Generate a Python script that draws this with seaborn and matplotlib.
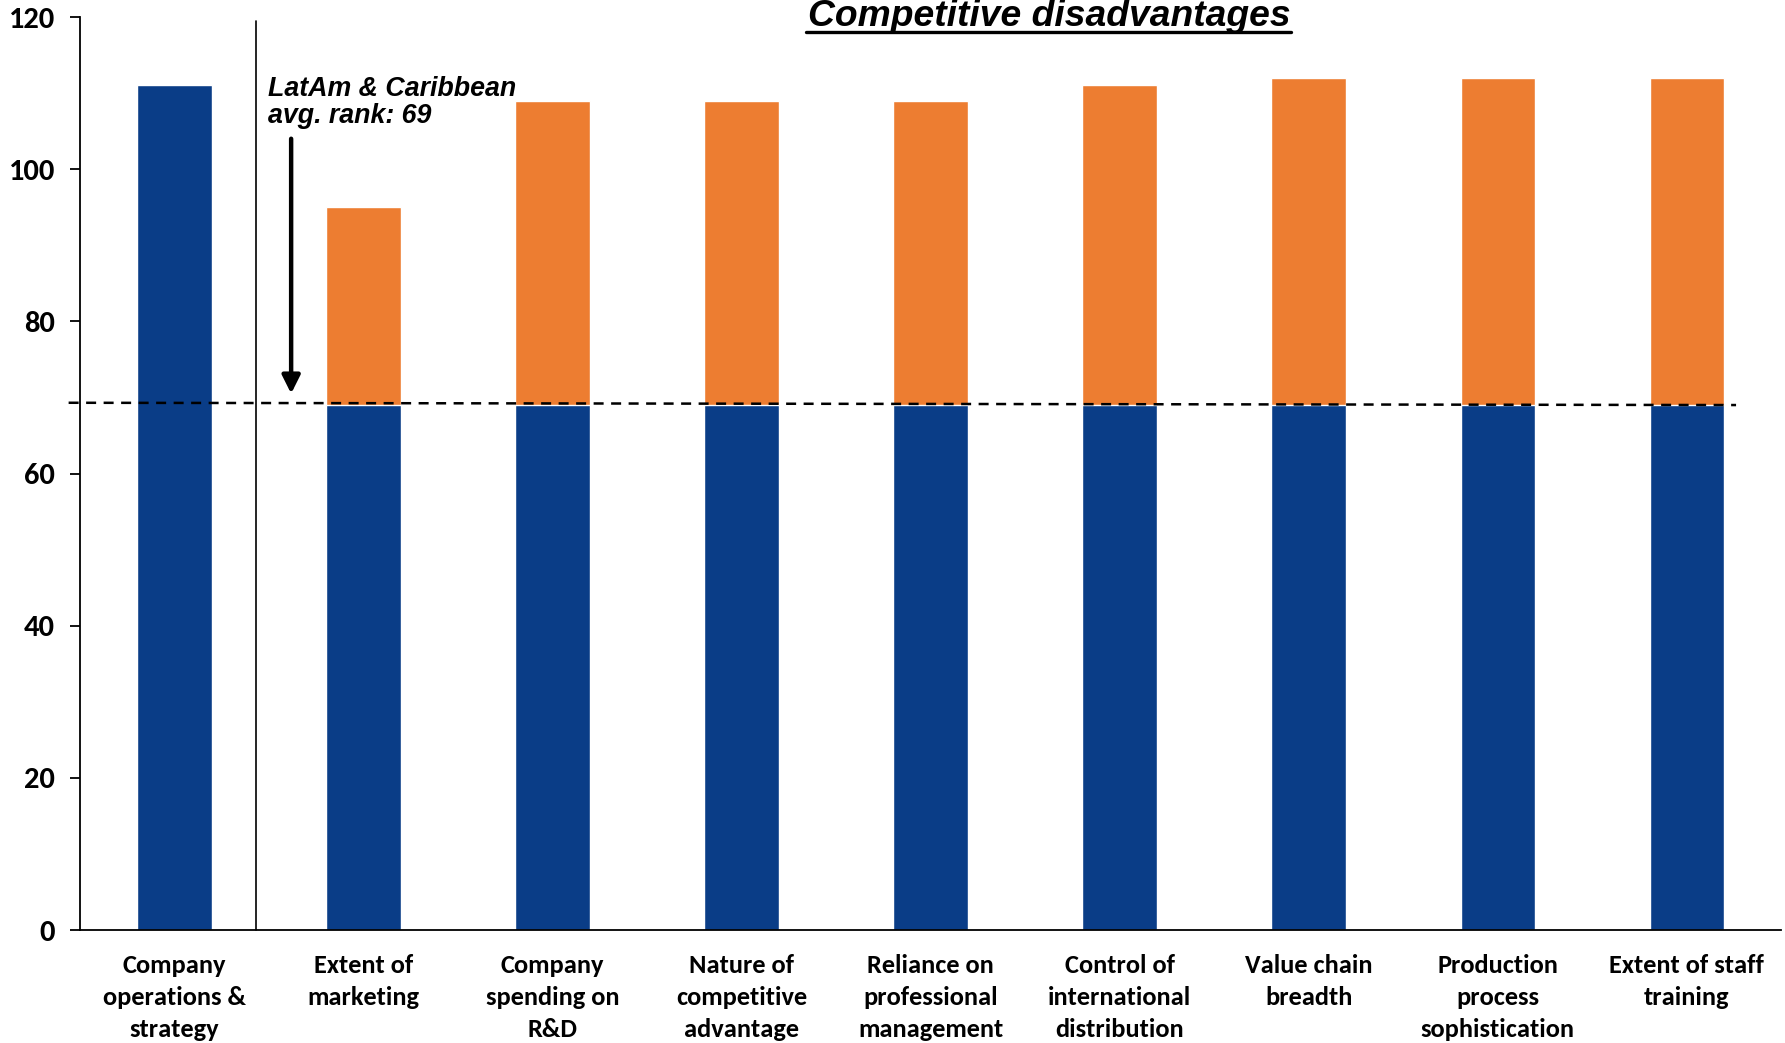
import matplotlib
matplotlib.use("Agg")
import matplotlib.pyplot as plt
import seaborn as sns
import pandas as pd

# Category labels (x axis)
categories = [
    "Company\noperations &\nstrategy",
    "Extent of\nmarketing",
    "Company\nspending on\nR&D",
    "Nature of\ncompetitive\nadvantage",
    "Reliance on\nprofessional\nmanagement",
    "Control of\ninternational\ndistribution",
    "Value chain\nbreadth",
    "Production\nprocess\nsophistication",
    "Extent of staff\ntraining",
]
# Country rank per indicator (bar top)
rank_values = [111, 95, 109, 109, 109, 111, 112, 112, 112]
# Blue part of each bar: the full bar for the pillar, the regional average for the rest
regional_avg = 69
blue_part = [111, 69, 69, 69, 69, 69, 69, 69, 69]
y_ticks = [0, 20, 40, 60, 80, 100, 120]

BLUE = "#0A3D87"
ORANGE = "#ED7D31"

sns.set_theme(style="white")
LABEL_FONT = ["Carlito", "DejaVu Sans"]
TITLE_FONT = ["Liberation Sans", "DejaVu Sans"]
plt.rcParams["font.family"] = LABEL_FONT

df = pd.DataFrame({"indicator": categories, "rank": rank_values, "base": blue_part})

fig = plt.figure(figsize=(17.85, 10.43), dpi=100)
ax = fig.add_axes([0.0448, 0.1083, 0.9532, 0.8754])

sns.barplot(data=df, x="indicator", y="rank", order=categories, color=ORANGE,
            width=0.395, saturation=1, ax=ax)
sns.barplot(data=df, x="indicator", y="base", order=categories, color=BLUE,
            width=0.395, saturation=1, ax=ax)

ax.set_xlim(-0.5, 8.5)
ax.set_ylim(0, 120)
ax.set_yticks(y_ticks)
ax.set_xlabel("")
ax.set_ylabel("")

for s in ["top", "right"]:
    ax.spines[s].set_visible(False)
for s in ["left", "bottom"]:
    ax.spines[s].set_color("black")
    ax.spines[s].set_linewidth(1.3)

ax.tick_params(axis="y", which="major", left=True, length=7, width=1.3,
               color="black", pad=11, labelsize=22)
ax.tick_params(axis="x", length=0, pad=17, labelsize=19)
for lbl in ax.get_yticklabels() + ax.get_xticklabels():
    lbl.set_fontweight("bold")
    lbl.set_color("black")
for lbl in ax.get_xticklabels():
    lbl.set_linespacing(1.48)

# Separator between the pillar and its indicators
ax.plot([0.43, 0.43], [0, 119.5], color="black", lw=1.2, clip_on=False)

# Regional average reference line
ax.plot([-0.56, 8.26], [69.3, 69.0], color="black", lw=1.8, ls=(0, (4, 3)),
        clip_on=False, zorder=5)

# Annotation with arrow
ax.annotate("", xy=(0.617, 70.5), xytext=(0.617, 104.0),
            arrowprops=dict(arrowstyle="-|>,head_length=0.9,head_width=0.45",
                            color="black", lw=3.2, shrinkA=0, shrinkB=0))
ax.text(0.495, 105.3, f"LatAm & Caribbean\navg. rank: {regional_avg}",
        fontsize=19.3, fontweight="bold", fontstyle="italic",
        family=TITLE_FONT, ha="left", va="bottom",
        linespacing=1.04, color="black")

# Title
fig.text(0.588, 0.984, "Competitive disadvantages", fontsize=26.8,
         fontweight="bold", fontstyle="italic", family=TITLE_FONT,
         ha="center", va="center", color="black")
fig.add_artist(plt.Line2D([0.4516, 0.7233], [0.9694, 0.9694], color="black", lw=2.4))

fig.savefig("out.png", dpi=100)
